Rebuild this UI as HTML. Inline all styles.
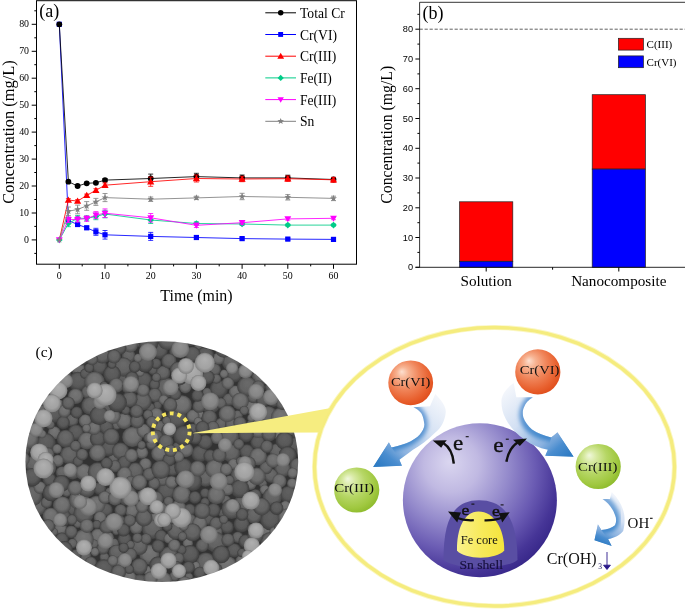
<!DOCTYPE html>
<html><head><meta charset="utf-8"><title>Figure</title>
<style>html,body{margin:0;padding:0;background:#fff}svg{display:block}</style></head>
<body><svg width="685" height="609" viewBox="0 0 685 609">
<defs>
<filter id="sb" x="-5%" y="-5%" width="110%" height="110%"><feGaussianBlur stdDeviation="0.6"/></filter>
<filter id="se" x="-5%" y="-5%" width="110%" height="110%"><feGaussianBlur stdDeviation="0.4"/></filter>
<filter id="ab" x="-30%" y="-30%" width="160%" height="160%"><feGaussianBlur stdDeviation="2.2"/></filter>
<radialGradient id="g0" cy="0.5" fy="0.3"><stop offset="0" stop-color="#606060"/><stop offset="0.65" stop-color="#595959"/><stop offset="1" stop-color="#3c3c3c"/></radialGradient>
<radialGradient id="g1" cy="0.5" fy="0.3"><stop offset="0" stop-color="#6a6a6a"/><stop offset="0.65" stop-color="#626262"/><stop offset="1" stop-color="#424242"/></radialGradient>
<radialGradient id="g2" cy="0.5" fy="0.3"><stop offset="0" stop-color="#767676"/><stop offset="0.65" stop-color="#6d6d6d"/><stop offset="1" stop-color="#4a4a4a"/></radialGradient>
<radialGradient id="g3" cy="0.5" fy="0.3"><stop offset="0" stop-color="#b0b0b0"/><stop offset="0.7" stop-color="#a2a2a2"/><stop offset="1" stop-color="#808080"/></radialGradient>
<radialGradient id="g4" cy="0.5" fy="0.3"><stop offset="0" stop-color="#929292"/><stop offset="0.7" stop-color="#868686"/><stop offset="1" stop-color="#686868"/></radialGradient>
<radialGradient id="go" cx="0.42" cy="0.4" fx="0.3" fy="0.25" r="0.66"><stop offset="0" stop-color="#fde0d0"/><stop offset="0.2" stop-color="#f7b392"/><stop offset="0.5" stop-color="#f0855a"/><stop offset="0.8" stop-color="#e8602e"/><stop offset="1" stop-color="#de4a18"/></radialGradient>
<radialGradient id="gg" cx="0.42" cy="0.4" fx="0.3" fy="0.25" r="0.66"><stop offset="0" stop-color="#f0f8dc"/><stop offset="0.2" stop-color="#d8eaa4"/><stop offset="0.5" stop-color="#b6d665"/><stop offset="0.8" stop-color="#a0c840"/><stop offset="1" stop-color="#8ab828"/></radialGradient>
<radialGradient id="gp" cx="0.36" cy="0.33" fx="0.3" fy="0.25" r="0.72"><stop offset="0" stop-color="#dad6f0"/><stop offset="0.25" stop-color="#c0b9e2"/><stop offset="0.5" stop-color="#9389cb"/><stop offset="0.72" stop-color="#6a5bb3"/><stop offset="0.9" stop-color="#463597"/><stop offset="1" stop-color="#38288a"/></radialGradient>
<linearGradient id="gy" x1="0" y1="0" x2="1" y2="0"><stop offset="0" stop-color="#faf18c"/><stop offset="0.5" stop-color="#f7ea5c"/><stop offset="1" stop-color="#f5e43c"/></linearGradient>
<linearGradient id="ba1" gradientUnits="userSpaceOnUse" x1="440" y1="395" x2="380" y2="466"><stop offset="0" stop-color="#f6f8fc"/><stop offset="0.4" stop-color="#d3e0f3"/><stop offset="0.72" stop-color="#8db3e0"/><stop offset="0.86" stop-color="#4a8dcf"/><stop offset="1" stop-color="#2f7cc4"/></linearGradient>
<linearGradient id="ba2" gradientUnits="userSpaceOnUse" x1="508" y1="385" x2="568" y2="456"><stop offset="0" stop-color="#f6f8fc"/><stop offset="0.4" stop-color="#d3e0f3"/><stop offset="0.72" stop-color="#8db3e0"/><stop offset="0.86" stop-color="#4a8dcf"/><stop offset="1" stop-color="#2f7cc4"/></linearGradient>
<linearGradient id="ba3" gradientUnits="userSpaceOnUse" x1="618" y1="495" x2="598" y2="542"><stop offset="0" stop-color="#f4f7fc"/><stop offset="0.45" stop-color="#d3e0f3"/><stop offset="0.75" stop-color="#8db3e0"/><stop offset="0.88" stop-color="#4a8dcf"/><stop offset="1" stop-color="#2f7cc4"/></linearGradient>
<linearGradient id="bs1" gradientUnits="userSpaceOnUse" x1="415" y1="405" x2="390" y2="448"><stop offset="0" stop-color="#6a9dd6"/><stop offset="1" stop-color="#3a84ca"/></linearGradient>
<linearGradient id="bs2" gradientUnits="userSpaceOnUse" x1="530" y1="396" x2="553" y2="438"><stop offset="0" stop-color="#6a9dd6"/><stop offset="1" stop-color="#3a84ca"/></linearGradient>
<linearGradient id="bs3" gradientUnits="userSpaceOnUse" x1="603" y1="497" x2="600" y2="530"><stop offset="0" stop-color="#7aa8da"/><stop offset="1" stop-color="#3a84ca"/></linearGradient>
</defs>
<rect width="685" height="609" fill="#fff"/>
<g font-family="'Liberation Serif', serif" fill="#000">
<rect x="36.5" y="0.7" width="320.0" height="263.5" fill="#fff" stroke="#000" stroke-width="1"/>
<text x="29.0" y="242.7" font-size="9.9" text-anchor="end">0</text>
<text x="29.0" y="215.8" font-size="9.9" text-anchor="end">10</text>
<text x="29.0" y="188.8" font-size="9.9" text-anchor="end">20</text>
<text x="29.0" y="161.9" font-size="9.9" text-anchor="end">30</text>
<text x="29.0" y="134.9" font-size="9.9" text-anchor="end">40</text>
<text x="29.0" y="108.0" font-size="9.9" text-anchor="end">50</text>
<text x="29.0" y="81.0" font-size="9.9" text-anchor="end">60</text>
<text x="29.0" y="54.1" font-size="9.9" text-anchor="end">70</text>
<text x="29.0" y="27.1" font-size="9.9" text-anchor="end">80</text>
<text x="59.3" y="279.0" font-size="9.9" text-anchor="middle">0</text>
<text x="105.0" y="279.0" font-size="9.9" text-anchor="middle">10</text>
<text x="150.7" y="279.0" font-size="9.9" text-anchor="middle">20</text>
<text x="196.4" y="279.0" font-size="9.9" text-anchor="middle">30</text>
<text x="242.1" y="279.0" font-size="9.9" text-anchor="middle">40</text>
<text x="287.8" y="279.0" font-size="9.9" text-anchor="middle">50</text>
<text x="333.5" y="279.0" font-size="9.9" text-anchor="middle">60</text>
<path d="M34.3 253.4H36.5M31.7 239.9H36.5M34.3 226.4H36.5M31.7 213.0H36.5M34.3 199.5H36.5M31.7 186.0H36.5M34.3 172.5H36.5M31.7 159.1H36.5M34.3 145.6H36.5M31.7 132.1H36.5M34.3 118.6H36.5M31.7 105.2H36.5M34.3 91.7H36.5M31.7 78.2H36.5M34.3 64.7H36.5M31.7 51.3H36.5M34.3 37.8H36.5M31.7 24.3H36.5M34.3 10.8H36.5M59.3 264.2V268.8M82.2 264.2V266.4M105.0 264.2V268.8M127.9 264.2V266.4M150.7 264.2V268.8M173.6 264.2V266.4M196.4 264.2V268.8M219.2 264.2V266.4M242.1 264.2V268.8M264.9 264.2V266.4M287.8 264.2V268.8M310.7 264.2V266.4M333.5 264.2V268.8" stroke="#000" stroke-width="1" fill="none"/>
<polyline points="59.3,24.3 68.4,220.5 77.6,224.5 86.7,227.8 95.9,231.8 105.0,234.8 150.7,236.4 196.4,237.5 242.1,238.6 287.8,239.1 333.5,239.4" fill="none" stroke="#0000ff" stroke-width="0.85"/>
<path d="M68.4 218.9V222.1M65.9 218.9h5M65.9 222.1h5M77.6 222.9V226.2M75.1 222.9h5M75.1 226.2h5M86.7 226.2V229.4M84.2 226.2h5M84.2 229.4h5M95.9 228.3V235.3M93.4 228.3h5M93.4 235.3h5M105.0 230.5V239.1M102.5 230.5h5M102.5 239.1h5M150.7 232.4V240.4M148.2 232.4h5M148.2 240.4h5M196.4 235.9V239.1M193.9 235.9h5M193.9 239.1h5M242.1 237.2V239.9M239.6 237.2h5M239.6 239.9h5M287.8 238.0V240.2M285.3 238.0h5M285.3 240.2h5M333.5 238.3V240.4M331.0 238.3h5M331.0 240.4h5" stroke="#0000ff" stroke-width="0.8" fill="none"/>
<rect x="56.7" y="21.7" width="5.2" height="5.2" fill="#0000ff"/>
<rect x="65.8" y="217.9" width="5.2" height="5.2" fill="#0000ff"/>
<rect x="75.0" y="221.9" width="5.2" height="5.2" fill="#0000ff"/>
<rect x="84.1" y="225.2" width="5.2" height="5.2" fill="#0000ff"/>
<rect x="93.3" y="229.2" width="5.2" height="5.2" fill="#0000ff"/>
<rect x="102.4" y="232.2" width="5.2" height="5.2" fill="#0000ff"/>
<rect x="148.1" y="233.8" width="5.2" height="5.2" fill="#0000ff"/>
<rect x="193.8" y="234.9" width="5.2" height="5.2" fill="#0000ff"/>
<rect x="239.5" y="236.0" width="5.2" height="5.2" fill="#0000ff"/>
<rect x="285.2" y="236.5" width="5.2" height="5.2" fill="#0000ff"/>
<rect x="330.9" y="236.8" width="5.2" height="5.2" fill="#0000ff"/>
<polyline points="59.3,24.3 68.4,181.7 77.6,186.0 86.7,183.3 95.9,182.8 105.0,180.1 150.7,178.5 196.4,176.6 242.1,177.9 287.8,177.9 333.5,179.5" fill="none" stroke="#000" stroke-width="0.85"/>
<path d="M68.4 180.6V182.8M65.9 180.6h5M65.9 182.8h5M77.6 184.9V187.1M75.1 184.9h5M75.1 187.1h5M86.7 182.2V184.4M84.2 182.2h5M84.2 184.4h5M95.9 181.7V183.8M93.4 181.7h5M93.4 183.8h5M105.0 178.5V181.7M102.5 178.5h5M102.5 181.7h5M150.7 174.1V182.8M148.2 174.1h5M148.2 182.8h5M196.4 173.3V179.8M193.9 173.3h5M193.9 179.8h5M242.1 175.0V180.9M239.6 175.0h5M239.6 180.9h5M287.8 175.2V180.6M285.3 175.2h5M285.3 180.6h5M333.5 177.4V181.7M331.0 177.4h5M331.0 181.7h5" stroke="#000" stroke-width="0.8" fill="none"/>
<circle cx="59.3" cy="24.3" r="2.90" fill="#000"/>
<circle cx="68.4" cy="181.7" r="2.90" fill="#000"/>
<circle cx="77.6" cy="186.0" r="2.90" fill="#000"/>
<circle cx="86.7" cy="183.3" r="2.90" fill="#000"/>
<circle cx="95.9" cy="182.8" r="2.90" fill="#000"/>
<circle cx="105.0" cy="180.1" r="2.90" fill="#000"/>
<circle cx="150.7" cy="178.5" r="2.90" fill="#000"/>
<circle cx="196.4" cy="176.6" r="2.90" fill="#000"/>
<circle cx="242.1" cy="177.9" r="2.90" fill="#000"/>
<circle cx="287.8" cy="177.9" r="2.90" fill="#000"/>
<circle cx="333.5" cy="179.5" r="2.90" fill="#000"/>
<polyline points="59.3,239.9 68.4,200.0 77.6,201.1 86.7,195.4 95.9,190.3 105.0,185.2 150.7,181.7 196.4,178.5 242.1,179.0 287.8,178.7 333.5,179.8" fill="none" stroke="#ff0000" stroke-width="0.85"/>
<path d="M68.4 198.7V201.4M65.9 198.7h5M65.9 201.4h5M77.6 199.7V202.4M75.1 199.7h5M75.1 202.4h5M86.7 194.1V196.8M84.2 194.1h5M84.2 196.8h5M95.9 188.7V191.9M93.4 188.7h5M93.4 191.9h5M105.0 183.0V187.3M102.5 183.0h5M102.5 187.3h5M150.7 177.1V186.3M148.2 177.1h5M148.2 186.3h5M196.4 175.0V182.0M193.9 175.0h5M193.9 182.0h5M242.1 176.3V181.7M239.6 176.3h5M239.6 181.7h5M287.8 176.0V181.4M285.3 176.0h5M285.3 181.4h5M333.5 177.4V182.2M331.0 177.4h5M331.0 182.2h5" stroke="#ff0000" stroke-width="0.8" fill="none"/>
<path d="M68.4 196.4L72.0 202.7L64.8 202.7Z" fill="#ff0000"/>
<path d="M77.6 197.5L81.2 203.8L74.0 203.8Z" fill="#ff0000"/>
<path d="M86.7 191.8L90.3 198.1L83.1 198.1Z" fill="#ff0000"/>
<path d="M95.9 186.7L99.5 193.0L92.3 193.0Z" fill="#ff0000"/>
<path d="M105.0 181.6L108.6 187.9L101.4 187.9Z" fill="#ff0000"/>
<path d="M150.7 178.1L154.3 184.4L147.1 184.4Z" fill="#ff0000"/>
<path d="M196.4 174.9L200.0 181.2L192.8 181.2Z" fill="#ff0000"/>
<path d="M242.1 175.4L245.7 181.7L238.5 181.7Z" fill="#ff0000"/>
<path d="M287.8 175.1L291.4 181.4L284.2 181.4Z" fill="#ff0000"/>
<path d="M333.5 176.2L337.1 182.5L329.9 182.5Z" fill="#ff0000"/>
<polyline points="59.3,239.9 68.4,223.5 77.6,218.3 86.7,218.3 95.9,216.5 105.0,214.0 150.7,220.0 196.4,223.5 242.1,224.0 287.8,225.1 333.5,225.1" fill="none" stroke="#00cc88" stroke-width="0.85"/>
<path d="M68.4 220.2V226.7M65.9 220.2h5M65.9 226.7h5M77.6 215.6V221.0M75.1 215.6h5M75.1 221.0h5M86.7 215.9V220.8M84.2 215.9h5M84.2 220.8h5M95.9 213.2V219.7M93.4 213.2h5M93.4 219.7h5M105.0 210.3V217.8M102.5 210.3h5M102.5 217.8h5M150.7 216.5V223.5M148.2 216.5h5M148.2 223.5h5M196.4 221.8V225.1M193.9 221.8h5M193.9 225.1h5M242.1 222.7V225.3M239.6 222.7h5M239.6 225.3h5M287.8 224.0V226.2M285.3 224.0h5M285.3 226.2h5M333.5 224.0V226.2M331.0 224.0h5M331.0 226.2h5" stroke="#00cc88" stroke-width="0.8" fill="none"/>
<path d="M59.3 236.6L62.6 239.9L59.3 243.2L56.0 239.9Z" fill="#00cc88"/>
<path d="M68.4 220.2L71.7 223.5L68.4 226.8L65.1 223.5Z" fill="#00cc88"/>
<path d="M77.6 215.0L80.9 218.3L77.6 221.6L74.3 218.3Z" fill="#00cc88"/>
<path d="M86.7 215.0L90.0 218.3L86.7 221.6L83.4 218.3Z" fill="#00cc88"/>
<path d="M95.9 213.2L99.2 216.5L95.9 219.8L92.6 216.5Z" fill="#00cc88"/>
<path d="M105.0 210.7L108.3 214.0L105.0 217.3L101.7 214.0Z" fill="#00cc88"/>
<path d="M150.7 216.7L154.0 220.0L150.7 223.3L147.4 220.0Z" fill="#00cc88"/>
<path d="M196.4 220.2L199.7 223.5L196.4 226.8L193.1 223.5Z" fill="#00cc88"/>
<path d="M242.1 220.7L245.4 224.0L242.1 227.3L238.8 224.0Z" fill="#00cc88"/>
<path d="M287.8 221.8L291.1 225.1L287.8 228.4L284.5 225.1Z" fill="#00cc88"/>
<path d="M333.5 221.8L336.8 225.1L333.5 228.4L330.2 225.1Z" fill="#00cc88"/>
<polyline points="59.3,239.9 68.4,219.7 77.6,219.4 86.7,218.6 95.9,215.1 105.0,213.2 150.7,217.8 196.4,225.3 242.1,222.7 287.8,218.9 333.5,218.3" fill="none" stroke="#ff00ff" stroke-width="0.85"/>
<path d="M68.4 217.0V222.4M65.9 217.0h5M65.9 222.4h5M77.6 216.7V222.1M75.1 216.7h5M75.1 222.1h5M86.7 215.9V221.3M84.2 215.9h5M84.2 221.3h5M95.9 211.6V218.6M93.4 211.6h5M93.4 218.6h5M105.0 208.9V217.5M102.5 208.9h5M102.5 217.5h5M150.7 213.5V222.1M148.2 213.5h5M148.2 222.1h5M196.4 223.2V227.5M193.9 223.2h5M193.9 227.5h5M242.1 221.0V224.3M239.6 221.0h5M239.6 224.3h5M287.8 217.5V220.2M285.3 217.5h5M285.3 220.2h5M333.5 217.0V219.7M331.0 217.0h5M331.0 219.7h5" stroke="#ff00ff" stroke-width="0.8" fill="none"/>
<path d="M59.3 243.3L62.7 237.3L55.9 237.3Z" fill="#ff00ff"/>
<path d="M68.4 223.1L71.8 217.1L65.0 217.1Z" fill="#ff00ff"/>
<path d="M77.6 222.8L81.0 216.9L74.2 216.9Z" fill="#ff00ff"/>
<path d="M86.7 222.0L90.1 216.1L83.3 216.1Z" fill="#ff00ff"/>
<path d="M95.9 218.5L99.3 212.6L92.5 212.6Z" fill="#ff00ff"/>
<path d="M105.0 216.6L108.4 210.7L101.6 210.7Z" fill="#ff00ff"/>
<path d="M150.7 221.2L154.1 215.3L147.3 215.3Z" fill="#ff00ff"/>
<path d="M196.4 228.7L199.8 222.8L193.0 222.8Z" fill="#ff00ff"/>
<path d="M242.1 226.1L245.5 220.1L238.7 220.1Z" fill="#ff00ff"/>
<path d="M287.8 222.3L291.2 216.3L284.4 216.3Z" fill="#ff00ff"/>
<path d="M333.5 221.7L336.9 215.8L330.1 215.8Z" fill="#ff00ff"/>
<polyline points="59.3,239.9 68.4,211.3 77.6,209.4 86.7,205.9 95.9,201.9 105.0,197.6 150.7,199.2 196.4,197.9 242.1,196.5 287.8,197.3 333.5,198.4" fill="none" stroke="#808080" stroke-width="0.85"/>
<path d="M68.4 207.0V215.6M65.9 207.0h5M65.9 215.6h5M77.6 205.1V213.8M75.1 205.1h5M75.1 213.8h5M86.7 201.6V210.3M84.2 201.6h5M84.2 210.3h5M95.9 198.4V205.4M93.4 198.4h5M93.4 205.4h5M105.0 193.5V201.6M102.5 193.5h5M102.5 201.6h5M150.7 197.0V201.4M148.2 197.0h5M148.2 201.4h5M196.4 196.2V199.5M193.9 196.2h5M193.9 199.5h5M242.1 193.3V199.7M239.6 193.3h5M239.6 199.7h5M287.8 194.6V200.0M285.3 194.6h5M285.3 200.0h5M333.5 196.2V200.6M331.0 196.2h5M331.0 200.6h5" stroke="#808080" stroke-width="0.8" fill="none"/>
<path d="M59.3 236.3L60.2 238.7L62.7 238.8L60.7 240.4L61.4 242.8L59.3 241.4L57.2 242.8L57.9 240.4L55.9 238.8L58.4 238.7Z" fill="#808080"/>
<path d="M68.4 207.7L69.3 210.1L71.9 210.2L69.9 211.8L70.6 214.2L68.4 212.8L66.3 214.2L67.0 211.8L65.0 210.2L67.6 210.1Z" fill="#808080"/>
<path d="M77.6 205.8L78.5 208.2L81.0 208.3L79.0 209.9L79.7 212.4L77.6 210.9L75.5 212.4L76.2 209.9L74.2 208.3L76.7 208.2Z" fill="#808080"/>
<path d="M86.7 202.3L87.6 204.7L90.1 204.8L88.1 206.4L88.8 208.9L86.7 207.4L84.6 208.9L85.3 206.4L83.3 204.8L85.8 204.7Z" fill="#808080"/>
<path d="M95.9 198.3L96.7 200.7L99.3 200.8L97.3 202.4L98.0 204.8L95.9 203.4L93.7 204.8L94.4 202.4L92.4 200.8L95.0 200.7Z" fill="#808080"/>
<path d="M105.0 194.0L105.9 196.4L108.4 196.5L106.4 198.1L107.1 200.5L105.0 199.1L102.9 200.5L103.6 198.1L101.6 196.5L104.1 196.4Z" fill="#808080"/>
<path d="M150.7 195.6L151.6 198.0L154.1 198.1L152.1 199.7L152.8 202.1L150.7 200.7L148.6 202.1L149.3 199.7L147.3 198.1L149.8 198.0Z" fill="#808080"/>
<path d="M196.4 194.3L197.3 196.6L199.8 196.7L197.8 198.3L198.5 200.8L196.4 199.4L194.3 200.8L195.0 198.3L193.0 196.7L195.5 196.6Z" fill="#808080"/>
<path d="M242.1 192.9L243.0 195.3L245.5 195.4L243.5 197.0L244.2 199.4L242.1 198.0L240.0 199.4L240.7 197.0L238.7 195.4L241.2 195.3Z" fill="#808080"/>
<path d="M287.8 193.7L288.7 196.1L291.2 196.2L289.2 197.8L289.9 200.2L287.8 198.8L285.7 200.2L286.4 197.8L284.4 196.2L286.9 196.1Z" fill="#808080"/>
<path d="M333.5 194.8L334.4 197.2L336.9 197.3L334.9 198.9L335.6 201.3L333.5 199.9L331.4 201.3L332.1 198.9L330.1 197.3L332.6 197.2Z" fill="#808080"/>
<path d="M265.3 12.8H296" stroke="#000" stroke-width="1"/>
<circle cx="280.7" cy="12.8" r="2.75" fill="#000"/>
<text x="300" y="17.8" font-size="13.6">Total Cr</text>
<path d="M265.3 34.5H296" stroke="#0000ff" stroke-width="1"/>
<rect x="278.2" y="32.0" width="4.9" height="4.9" fill="#0000ff"/>
<text x="300" y="39.5" font-size="13.6">Cr(VI)</text>
<path d="M265.3 56.2H296" stroke="#ff0000" stroke-width="1"/>
<path d="M280.7 52.8L284.1 58.8L277.3 58.8Z" fill="#ff0000"/>
<text x="300" y="61.2" font-size="13.6">Cr(III)</text>
<path d="M265.3 77.9H296" stroke="#00cc88" stroke-width="1"/>
<path d="M280.7 74.8L283.8 77.9L280.7 81.0L277.6 77.9Z" fill="#00cc88"/>
<text x="300" y="82.9" font-size="13.6">Fe(II)</text>
<path d="M265.3 99.6H296" stroke="#ff00ff" stroke-width="1"/>
<path d="M280.7 102.8L283.9 97.2L277.5 97.2Z" fill="#ff00ff"/>
<text x="300" y="104.6" font-size="13.6">Fe(III)</text>
<path d="M265.3 121.3H296" stroke="#808080" stroke-width="1"/>
<path d="M280.7 117.9L281.5 120.1L284.0 120.2L282.1 121.7L282.7 124.1L280.7 122.7L278.7 124.1L279.3 121.7L277.4 120.2L279.9 120.1Z" fill="#808080"/>
<text x="300" y="126.3" font-size="13.6">Sn</text>
<text x="39.3" y="17.3" font-size="18">(a)</text>
<text transform="translate(14.3 132) rotate(-90)" font-size="16.4" text-anchor="middle">Concentration (mg/L)</text>
<text x="196.5" y="300.6" font-size="15.9" text-anchor="middle">Time (min)</text>
</g>
<g font-family="'Liberation Sans', sans-serif" fill="#000">
<path d="M419.6 267.3V2.3H685" fill="none" stroke="#111" stroke-width="0.85"/>
<path d="M419.6 29.2H685" fill="none" stroke="#383838" stroke-width="0.8" stroke-dasharray="3.2 1.8"/>
<rect x="459.6" y="201.8" width="53.2" height="59.5" fill="#ff0000" stroke="#222" stroke-width="0.7"/>
<rect x="459.6" y="261.3" width="53.2" height="6.0" fill="#0000ff" stroke="#222" stroke-width="0.7"/>
<rect x="592.2" y="94.7" width="53.2" height="74.4" fill="#ff0000" stroke="#222" stroke-width="0.7"/>
<rect x="592.2" y="169.1" width="53.2" height="98.2" fill="#0000ff" stroke="#222" stroke-width="0.7"/>
<path d="M415.6 267.3H685" fill="none" stroke="#111" stroke-width="0.9"/>
<text x="413.0" y="270.4" font-size="9.2" text-anchor="end">0</text>
<text x="413.0" y="240.6" font-size="9.2" text-anchor="end">10</text>
<text x="413.0" y="210.9" font-size="9.2" text-anchor="end">20</text>
<text x="413.0" y="181.1" font-size="9.2" text-anchor="end">30</text>
<text x="413.0" y="151.4" font-size="9.2" text-anchor="end">40</text>
<text x="413.0" y="121.6" font-size="9.2" text-anchor="end">50</text>
<text x="413.0" y="91.8" font-size="9.2" text-anchor="end">60</text>
<text x="413.0" y="62.1" font-size="9.2" text-anchor="end">70</text>
<text x="413.0" y="32.3" font-size="9.2" text-anchor="end">80</text>
<path d="M415.40000000000003 267.3H419.6M417.40000000000003 252.4H419.6M415.40000000000003 237.5H419.6M417.40000000000003 222.7H419.6M415.40000000000003 207.8H419.6M417.40000000000003 192.9H419.6M415.40000000000003 178.0H419.6M417.40000000000003 163.1H419.6M415.40000000000003 148.3H419.6M417.40000000000003 133.4H419.6M415.40000000000003 118.5H419.6M417.40000000000003 103.6H419.6M415.40000000000003 88.7H419.6M417.40000000000003 73.9H419.6M415.40000000000003 59.0H419.6M417.40000000000003 44.1H419.6M415.40000000000003 29.2H419.6M417.40000000000003 14.3H419.6M486.2 267.3v4.2M618.8 267.3v4.2M552.6 267.3v2.4" stroke="#000" stroke-width="1" fill="none"/>
</g>
<g font-family="'Liberation Serif', serif" fill="#000">
<rect x="618.4" y="38.3" width="25" height="11.8" fill="#ff0000" stroke="#222" stroke-width="0.7"/>
<rect x="618.4" y="55.9" width="25" height="11.8" fill="#0000ff" stroke="#222" stroke-width="0.7"/>
<text x="646.6" y="47.8" font-size="11">C(III)</text>
<text x="646.6" y="65.6" font-size="11">Cr(VI)</text>
<text x="422.4" y="19.1" font-size="18">(b)</text>
<text x="486.2" y="286.4" font-size="15.2" text-anchor="middle">Solution</text>
<text x="618.8" y="286.4" font-size="15.2" text-anchor="middle">Nanocomposite</text>
<text transform="translate(392.4 134.75) rotate(-90)" font-size="15.76" text-anchor="middle">Concentration (mg/L)</text>
</g>
<clipPath id="sc"><ellipse cx="161.8" cy="461.6" rx="136.4" ry="120.4"/></clipPath>
<g filter="url(#se)"><g clip-path="url(#sc)"><g filter="url(#sb)">
<rect x="15" y="330" width="295" height="265" fill="#333"/>
<circle cx="81.4" cy="568.3" r="6.9" fill="url(#g1)"/>
<circle cx="107.3" cy="407.8" r="6.2" fill="url(#g0)"/>
<circle cx="185.3" cy="386.9" r="6.3" fill="url(#g2)"/>
<circle cx="120.0" cy="521.3" r="6.1" fill="url(#g0)"/>
<circle cx="268.0" cy="414.9" r="9.0" fill="url(#g1)"/>
<circle cx="198.2" cy="381.8" r="6.5" fill="url(#g1)"/>
<circle cx="166.2" cy="491.1" r="8.9" fill="url(#g0)"/>
<circle cx="61.9" cy="472.4" r="6.1" fill="url(#g1)"/>
<circle cx="113.2" cy="458.7" r="5.1" fill="url(#g1)"/>
<circle cx="175.3" cy="351.9" r="6.2" fill="url(#g0)"/>
<circle cx="136.2" cy="527.6" r="6.6" fill="url(#g2)"/>
<circle cx="190.4" cy="338.8" r="7.3" fill="url(#g1)"/>
<circle cx="53.5" cy="351.0" r="9.3" fill="url(#g0)"/>
<circle cx="290.0" cy="365.3" r="4.2" fill="url(#g1)"/>
<circle cx="277.6" cy="434.5" r="4.7" fill="url(#g2)"/>
<circle cx="72.1" cy="420.3" r="6.3" fill="url(#g1)"/>
<circle cx="97.8" cy="535.9" r="7.3" fill="url(#g2)"/>
<circle cx="128.6" cy="356.0" r="6.9" fill="url(#g1)"/>
<circle cx="159.8" cy="350.9" r="8.0" fill="url(#g0)"/>
<circle cx="218.8" cy="389.1" r="9.2" fill="url(#g0)"/>
<circle cx="157.5" cy="405.4" r="4.4" fill="url(#g0)"/>
<circle cx="38.9" cy="537.2" r="4.4" fill="url(#g1)"/>
<circle cx="89.5" cy="578.4" r="7.3" fill="url(#g1)"/>
<circle cx="227.1" cy="527.1" r="6.7" fill="url(#g0)"/>
<circle cx="176.9" cy="446.6" r="4.5" fill="url(#g0)"/>
<circle cx="27.5" cy="382.8" r="6.7" fill="url(#g2)"/>
<circle cx="147.6" cy="570.5" r="4.7" fill="url(#g2)"/>
<circle cx="119.1" cy="336.4" r="9.6" fill="url(#g2)"/>
<circle cx="276.4" cy="450.7" r="7.1" fill="url(#g1)"/>
<circle cx="39.3" cy="339.8" r="7.6" fill="url(#g0)"/>
<circle cx="205.8" cy="562.2" r="9.8" fill="url(#g1)"/>
<circle cx="250.6" cy="424.3" r="4.2" fill="url(#g1)"/>
<circle cx="60.4" cy="387.4" r="7.1" fill="url(#g1)"/>
<circle cx="149.5" cy="554.6" r="10.1" fill="url(#g2)"/>
<circle cx="189.7" cy="509.9" r="6.2" fill="url(#g0)"/>
<circle cx="205.6" cy="478.7" r="8.0" fill="url(#g1)"/>
<circle cx="160.9" cy="522.3" r="4.9" fill="url(#g1)"/>
<circle cx="246.8" cy="451.6" r="7.4" fill="url(#g0)"/>
<circle cx="94.1" cy="544.0" r="4.5" fill="url(#g1)"/>
<circle cx="54.3" cy="432.8" r="6.5" fill="url(#g2)"/>
<circle cx="132.3" cy="436.9" r="10.1" fill="url(#g2)"/>
<circle cx="179.8" cy="339.1" r="8.1" fill="url(#g2)"/>
<circle cx="150.6" cy="407.6" r="4.6" fill="url(#g0)"/>
<circle cx="162.6" cy="480.0" r="6.1" fill="url(#g1)"/>
<circle cx="21.7" cy="557.6" r="7.0" fill="url(#g1)"/>
<circle cx="116.6" cy="425.4" r="4.4" fill="url(#g1)"/>
<circle cx="107.7" cy="537.8" r="6.4" fill="url(#g2)"/>
<circle cx="21.6" cy="546.7" r="5.8" fill="url(#g2)"/>
<circle cx="294.7" cy="414.4" r="9.6" fill="url(#g0)"/>
<circle cx="267.4" cy="366.3" r="5.0" fill="url(#g1)"/>
<circle cx="252.8" cy="407.6" r="7.7" fill="url(#g2)"/>
<circle cx="109.4" cy="491.8" r="4.3" fill="url(#g1)"/>
<circle cx="166.4" cy="387.7" r="10.1" fill="url(#g1)"/>
<circle cx="108.6" cy="448.6" r="7.8" fill="url(#g0)"/>
<circle cx="296.1" cy="584.8" r="4.8" fill="url(#g0)"/>
<circle cx="301.5" cy="433.2" r="10.0" fill="url(#g0)"/>
<circle cx="200.0" cy="414.6" r="4.2" fill="url(#g2)"/>
<circle cx="40.8" cy="350.3" r="6.9" fill="url(#g1)"/>
<circle cx="106.2" cy="509.8" r="6.6" fill="url(#g0)"/>
<circle cx="113.6" cy="583.6" r="6.3" fill="url(#g1)"/>
<circle cx="192.7" cy="429.4" r="6.0" fill="url(#g0)"/>
<circle cx="241.5" cy="572.1" r="8.2" fill="url(#g0)"/>
<circle cx="288.5" cy="340.8" r="8.8" fill="url(#g2)"/>
<circle cx="143.6" cy="430.8" r="7.0" fill="url(#g2)"/>
<circle cx="99.5" cy="366.8" r="7.8" fill="url(#g0)"/>
<circle cx="60.7" cy="528.6" r="6.4" fill="url(#g2)"/>
<circle cx="221.1" cy="423.9" r="6.1" fill="url(#g1)"/>
<circle cx="113.9" cy="543.4" r="5.2" fill="url(#g1)"/>
<circle cx="156.3" cy="414.4" r="6.6" fill="url(#g2)"/>
<circle cx="75.8" cy="432.4" r="8.0" fill="url(#g0)"/>
<circle cx="282.8" cy="429.8" r="4.3" fill="url(#g1)"/>
<circle cx="205.2" cy="579.8" r="4.3" fill="url(#g1)"/>
<circle cx="53.8" cy="532.1" r="4.2" fill="url(#g1)"/>
<circle cx="234.5" cy="374.3" r="8.1" fill="url(#g0)"/>
<circle cx="142.0" cy="452.6" r="6.2" fill="url(#g2)"/>
<circle cx="138.4" cy="342.1" r="4.7" fill="url(#g1)"/>
<circle cx="257.1" cy="339.8" r="8.7" fill="url(#g1)"/>
<circle cx="188.8" cy="577.0" r="4.4" fill="url(#g1)"/>
<circle cx="124.6" cy="539.2" r="6.9" fill="url(#g0)"/>
<circle cx="231.1" cy="361.7" r="9.4" fill="url(#g1)"/>
<circle cx="116.2" cy="530.9" r="4.2" fill="url(#g1)"/>
<circle cx="199.8" cy="453.9" r="8.4" fill="url(#g0)"/>
<circle cx="139.4" cy="566.4" r="8.2" fill="url(#g1)"/>
<circle cx="225.8" cy="500.2" r="5.0" fill="url(#g1)"/>
<circle cx="141.6" cy="445.1" r="4.3" fill="url(#g1)"/>
<circle cx="176.7" cy="417.9" r="10.3" fill="url(#g0)"/>
<circle cx="144.0" cy="380.2" r="8.1" fill="url(#g0)"/>
<circle cx="262.8" cy="483.6" r="4.3" fill="url(#g1)"/>
<circle cx="192.9" cy="416.1" r="6.5" fill="url(#g2)"/>
<circle cx="104.4" cy="557.1" r="4.9" fill="url(#g1)"/>
<circle cx="37.2" cy="425.9" r="7.8" fill="url(#g0)"/>
<circle cx="256.7" cy="573.2" r="4.1" fill="url(#g2)"/>
<circle cx="102.3" cy="355.4" r="8.2" fill="url(#g1)"/>
<circle cx="227.5" cy="565.4" r="9.5" fill="url(#g2)"/>
<circle cx="228.8" cy="399.5" r="6.3" fill="url(#g1)"/>
<circle cx="196.0" cy="565.7" r="4.2" fill="url(#g2)"/>
<circle cx="252.7" cy="359.8" r="8.5" fill="url(#g1)"/>
<circle cx="172.4" cy="469.9" r="6.2" fill="url(#g0)"/>
<circle cx="266.3" cy="531.1" r="6.2" fill="url(#g2)"/>
<circle cx="62.3" cy="559.9" r="5.7" fill="url(#g1)"/>
<circle cx="123.9" cy="421.0" r="8.0" fill="url(#g2)"/>
<circle cx="231.1" cy="452.9" r="9.2" fill="url(#g1)"/>
<circle cx="157.6" cy="337.1" r="4.4" fill="url(#g1)"/>
<circle cx="72.6" cy="472.1" r="7.4" fill="url(#g1)"/>
<circle cx="290.5" cy="428.8" r="6.5" fill="url(#g2)"/>
<circle cx="280.8" cy="392.1" r="5.2" fill="url(#g0)"/>
<circle cx="152.8" cy="370.5" r="4.5" fill="url(#g0)"/>
<circle cx="139.3" cy="546.8" r="8.3" fill="url(#g1)"/>
<circle cx="32.6" cy="463.8" r="7.8" fill="url(#g1)"/>
<circle cx="187.9" cy="543.2" r="5.1" fill="url(#g2)"/>
<circle cx="242.1" cy="561.2" r="6.7" fill="url(#g2)"/>
<circle cx="190.1" cy="554.3" r="9.2" fill="url(#g0)"/>
<circle cx="130.2" cy="344.7" r="7.7" fill="url(#g2)"/>
<circle cx="210.0" cy="456.0" r="6.5" fill="url(#g0)"/>
<circle cx="132.0" cy="511.0" r="6.7" fill="url(#g2)"/>
<circle cx="160.0" cy="426.8" r="6.3" fill="url(#g1)"/>
<circle cx="283.5" cy="569.0" r="8.3" fill="url(#g1)"/>
<circle cx="24.9" cy="508.4" r="9.5" fill="url(#g2)"/>
<circle cx="298.0" cy="547.3" r="8.3" fill="url(#g1)"/>
<circle cx="182.1" cy="404.9" r="9.7" fill="url(#g2)"/>
<circle cx="77.8" cy="523.8" r="4.3" fill="url(#g1)"/>
<circle cx="77.9" cy="368.1" r="7.0" fill="url(#g2)"/>
<circle cx="145.4" cy="464.1" r="6.2" fill="url(#g2)"/>
<circle cx="250.5" cy="484.1" r="6.0" fill="url(#g2)"/>
<circle cx="37.9" cy="507.3" r="8.3" fill="url(#g1)"/>
<circle cx="86.6" cy="440.7" r="8.7" fill="url(#g2)"/>
<circle cx="28.6" cy="343.2" r="7.2" fill="url(#g1)"/>
<circle cx="175.4" cy="394.3" r="5.9" fill="url(#g0)"/>
<circle cx="148.1" cy="414.7" r="5.0" fill="url(#g1)"/>
<circle cx="23.9" cy="449.0" r="6.6" fill="url(#g0)"/>
<circle cx="269.8" cy="581.9" r="6.1" fill="url(#g0)"/>
<circle cx="208.1" cy="519.1" r="6.0" fill="url(#g0)"/>
<circle cx="148.3" cy="343.2" r="9.9" fill="url(#g0)"/>
<circle cx="77.9" cy="381.4" r="9.7" fill="url(#g0)"/>
<circle cx="196.1" cy="369.7" r="8.1" fill="url(#g1)"/>
<circle cx="140.1" cy="372.4" r="4.3" fill="url(#g2)"/>
<circle cx="46.1" cy="442.7" r="9.6" fill="url(#g0)"/>
<circle cx="295.1" cy="564.1" r="9.8" fill="url(#g1)"/>
<circle cx="294.9" cy="444.6" r="7.1" fill="url(#g0)"/>
<circle cx="23.5" cy="487.0" r="6.5" fill="url(#g1)"/>
<circle cx="50.5" cy="541.6" r="7.9" fill="url(#g1)"/>
<circle cx="279.0" cy="346.3" r="7.3" fill="url(#g0)"/>
<circle cx="214.9" cy="345.1" r="4.5" fill="url(#g2)"/>
<circle cx="254.1" cy="582.1" r="8.9" fill="url(#g1)"/>
<circle cx="135.2" cy="470.8" r="8.2" fill="url(#g1)"/>
<circle cx="294.3" cy="533.7" r="7.1" fill="url(#g2)"/>
<circle cx="99.7" cy="488.5" r="6.4" fill="url(#g0)"/>
<circle cx="106.3" cy="427.1" r="7.2" fill="url(#g0)"/>
<circle cx="285.4" cy="584.0" r="10.2" fill="url(#g1)"/>
<circle cx="123.0" cy="378.4" r="6.3" fill="url(#g0)"/>
<circle cx="71.8" cy="509.8" r="6.1" fill="url(#g0)"/>
<circle cx="188.6" cy="567.4" r="6.2" fill="url(#g0)"/>
<circle cx="62.7" cy="517.8" r="8.8" fill="url(#g0)"/>
<circle cx="301.5" cy="351.0" r="6.2" fill="url(#g1)"/>
<circle cx="87.8" cy="392.1" r="6.7" fill="url(#g1)"/>
<circle cx="52.6" cy="363.1" r="5.3" fill="url(#g1)"/>
<circle cx="299.8" cy="402.6" r="6.3" fill="url(#g0)"/>
<circle cx="181.5" cy="574.8" r="4.6" fill="url(#g0)"/>
<circle cx="62.0" cy="505.2" r="9.0" fill="url(#g2)"/>
<circle cx="286.3" cy="545.2" r="8.9" fill="url(#g2)"/>
<circle cx="122.9" cy="584.4" r="7.0" fill="url(#g2)"/>
<circle cx="79.1" cy="499.8" r="10.1" fill="url(#g2)"/>
<circle cx="171.2" cy="517.9" r="6.1" fill="url(#g2)"/>
<circle cx="205.3" cy="442.1" r="7.4" fill="url(#g0)"/>
<circle cx="32.0" cy="370.5" r="10.3" fill="url(#g2)"/>
<circle cx="217.5" cy="531.7" r="5.1" fill="url(#g1)"/>
<circle cx="180.2" cy="518.5" r="7.0" fill="url(#g1)"/>
<circle cx="69.1" cy="455.0" r="9.1" fill="url(#g1)"/>
<circle cx="186.0" cy="449.9" r="7.3" fill="url(#g2)"/>
<circle cx="68.3" cy="336.9" r="7.2" fill="url(#g1)"/>
<circle cx="52.9" cy="369.6" r="4.4" fill="url(#g0)"/>
<circle cx="25.2" cy="358.4" r="7.1" fill="url(#g1)"/>
<circle cx="240.6" cy="475.2" r="10.0" fill="url(#g1)"/>
<circle cx="152.2" cy="528.6" r="10.3" fill="url(#g1)"/>
<circle cx="50.7" cy="515.7" r="8.0" fill="url(#g2)"/>
<circle cx="237.7" cy="348.4" r="9.7" fill="url(#g2)"/>
<circle cx="151.6" cy="444.0" r="5.5" fill="url(#g1)"/>
<circle cx="139.5" cy="584.1" r="10.2" fill="url(#g0)"/>
<circle cx="272.9" cy="387.0" r="7.9" fill="url(#g1)"/>
<circle cx="58.2" cy="338.6" r="6.9" fill="url(#g2)"/>
<circle cx="275.8" cy="576.0" r="4.4" fill="url(#g1)"/>
<circle cx="163.1" cy="372.8" r="7.2" fill="url(#g1)"/>
<circle cx="64.1" cy="375.3" r="7.1" fill="url(#g1)"/>
<circle cx="156.0" cy="363.6" r="5.4" fill="url(#g0)"/>
<circle cx="129.7" cy="520.5" r="6.1" fill="url(#g1)"/>
<circle cx="302.4" cy="480.3" r="7.8" fill="url(#g0)"/>
<circle cx="71.5" cy="565.3" r="8.3" fill="url(#g0)"/>
<circle cx="46.5" cy="502.5" r="5.7" fill="url(#g1)"/>
<circle cx="237.7" cy="415.3" r="5.1" fill="url(#g1)"/>
<circle cx="48.2" cy="453.8" r="6.2" fill="url(#g1)"/>
<circle cx="94.7" cy="337.2" r="7.8" fill="url(#g1)"/>
<circle cx="125.7" cy="410.3" r="4.6" fill="url(#g0)"/>
<circle cx="154.4" cy="516.6" r="4.5" fill="url(#g2)"/>
<circle cx="168.6" cy="430.7" r="7.5" fill="url(#g0)"/>
<circle cx="126.8" cy="495.3" r="10.2" fill="url(#g1)"/>
<circle cx="130.7" cy="554.4" r="6.3" fill="url(#g1)"/>
<circle cx="49.5" cy="479.5" r="6.8" fill="url(#g0)"/>
<circle cx="257.8" cy="527.1" r="4.7" fill="url(#g1)"/>
<circle cx="155.3" cy="586.1" r="4.6" fill="url(#g0)"/>
<circle cx="92.1" cy="350.7" r="6.4" fill="url(#g2)"/>
<circle cx="244.3" cy="502.6" r="9.9" fill="url(#g1)"/>
<circle cx="283.5" cy="382.1" r="8.8" fill="url(#g2)"/>
<circle cx="96.4" cy="504.7" r="9.0" fill="url(#g2)"/>
<circle cx="220.5" cy="483.6" r="7.0" fill="url(#g2)"/>
<circle cx="264.6" cy="489.7" r="4.9" fill="url(#g2)"/>
<circle cx="282.6" cy="468.8" r="8.3" fill="url(#g1)"/>
<circle cx="207.0" cy="392.5" r="4.8" fill="url(#g1)"/>
<circle cx="85.2" cy="420.7" r="6.5" fill="url(#g2)"/>
<circle cx="253.4" cy="396.8" r="6.4" fill="url(#g1)"/>
<circle cx="218.5" cy="358.6" r="6.2" fill="url(#g2)"/>
<circle cx="123.4" cy="367.0" r="9.7" fill="url(#g1)"/>
<circle cx="255.5" cy="495.0" r="6.0" fill="url(#g0)"/>
<circle cx="199.1" cy="345.9" r="5.0" fill="url(#g1)"/>
<circle cx="65.6" cy="438.5" r="8.8" fill="url(#g1)"/>
<circle cx="174.5" cy="576.3" r="5.2" fill="url(#g1)"/>
<circle cx="265.5" cy="559.1" r="6.6" fill="url(#g1)"/>
<circle cx="66.6" cy="492.2" r="4.7" fill="url(#g1)"/>
<circle cx="131.9" cy="378.2" r="6.7" fill="url(#g0)"/>
<circle cx="262.7" cy="400.7" r="6.9" fill="url(#g0)"/>
<circle cx="181.6" cy="549.9" r="4.8" fill="url(#g0)"/>
<circle cx="38.1" cy="452.2" r="4.9" fill="url(#g1)"/>
<circle cx="195.4" cy="437.9" r="6.4" fill="url(#g0)"/>
<circle cx="166.6" cy="420.9" r="4.5" fill="url(#g1)"/>
<circle cx="205.1" cy="355.8" r="9.2" fill="url(#g0)"/>
<circle cx="120.6" cy="510.2" r="6.1" fill="url(#g1)"/>
<circle cx="210.5" cy="404.0" r="9.5" fill="url(#g1)"/>
<circle cx="234.1" cy="550.4" r="7.2" fill="url(#g0)"/>
<circle cx="197.4" cy="585.5" r="9.1" fill="url(#g1)"/>
<circle cx="123.5" cy="530.1" r="6.5" fill="url(#g0)"/>
<circle cx="104.7" cy="497.4" r="6.4" fill="url(#g2)"/>
<circle cx="284.5" cy="440.7" r="8.9" fill="url(#g0)"/>
<circle cx="216.0" cy="523.4" r="6.4" fill="url(#g1)"/>
<circle cx="233.4" cy="464.0" r="5.4" fill="url(#g2)"/>
<circle cx="100.1" cy="517.5" r="6.3" fill="url(#g2)"/>
<circle cx="168.9" cy="555.7" r="9.2" fill="url(#g1)"/>
<circle cx="215.5" cy="542.0" r="10.3" fill="url(#g1)"/>
<circle cx="154.5" cy="384.6" r="5.4" fill="url(#g0)"/>
<circle cx="154.8" cy="395.1" r="7.1" fill="url(#g1)"/>
<circle cx="261.7" cy="375.1" r="9.9" fill="url(#g2)"/>
<circle cx="163.6" cy="580.7" r="8.8" fill="url(#g2)"/>
<circle cx="249.5" cy="347.4" r="6.8" fill="url(#g1)"/>
<circle cx="273.5" cy="398.3" r="8.5" fill="url(#g1)"/>
<circle cx="190.0" cy="520.4" r="6.7" fill="url(#g1)"/>
<circle cx="61.8" cy="539.3" r="6.8" fill="url(#g0)"/>
<circle cx="75.6" cy="396.2" r="7.7" fill="url(#g2)"/>
<circle cx="257.7" cy="442.2" r="7.3" fill="url(#g0)"/>
<circle cx="288.3" cy="494.4" r="8.5" fill="url(#g0)"/>
<circle cx="202.3" cy="545.5" r="6.5" fill="url(#g1)"/>
<circle cx="83.5" cy="539.7" r="10.3" fill="url(#g2)"/>
<circle cx="270.3" cy="520.0" r="10.3" fill="url(#g0)"/>
<circle cx="65.3" cy="585.3" r="6.1" fill="url(#g1)"/>
<circle cx="199.7" cy="572.8" r="6.1" fill="url(#g0)"/>
<circle cx="129.9" cy="577.5" r="6.5" fill="url(#g2)"/>
<circle cx="146.1" cy="538.9" r="5.5" fill="url(#g1)"/>
<circle cx="294.0" cy="391.3" r="10.1" fill="url(#g1)"/>
<circle cx="23.9" cy="409.5" r="4.2" fill="url(#g2)"/>
<circle cx="135.9" cy="388.5" r="4.4" fill="url(#g0)"/>
<circle cx="20.9" cy="524.5" r="9.6" fill="url(#g0)"/>
<circle cx="235.2" cy="391.8" r="6.4" fill="url(#g2)"/>
<circle cx="220.9" cy="403.3" r="5.5" fill="url(#g1)"/>
<circle cx="253.7" cy="515.5" r="8.2" fill="url(#g1)"/>
<circle cx="103.4" cy="581.6" r="6.1" fill="url(#g2)"/>
<circle cx="120.5" cy="451.1" r="8.5" fill="url(#g1)"/>
<circle cx="57.1" cy="448.9" r="4.8" fill="url(#g2)"/>
<circle cx="116.2" cy="552.3" r="7.6" fill="url(#g1)"/>
<circle cx="32.2" cy="496.0" r="10.2" fill="url(#g1)"/>
<circle cx="292.6" cy="575.7" r="4.4" fill="url(#g1)"/>
<circle cx="137.4" cy="538.0" r="5.0" fill="url(#g1)"/>
<circle cx="160.9" cy="536.1" r="6.3" fill="url(#g0)"/>
<circle cx="83.7" cy="513.3" r="10.3" fill="url(#g1)"/>
<circle cx="145.0" cy="363.8" r="8.6" fill="url(#g0)"/>
<circle cx="209.3" cy="417.5" r="7.7" fill="url(#g1)"/>
<circle cx="299.3" cy="366.1" r="7.1" fill="url(#g1)"/>
<circle cx="130.5" cy="544.8" r="4.2" fill="url(#g1)"/>
<circle cx="154.2" cy="483.5" r="6.0" fill="url(#g1)"/>
<circle cx="83.4" cy="472.0" r="8.2" fill="url(#g2)"/>
<circle cx="168.7" cy="538.5" r="5.1" fill="url(#g2)"/>
<circle cx="205.0" cy="502.4" r="4.7" fill="url(#g0)"/>
<circle cx="299.9" cy="337.5" r="6.8" fill="url(#g1)"/>
<circle cx="243.8" cy="356.6" r="4.9" fill="url(#g0)"/>
<circle cx="163.6" cy="399.9" r="5.0" fill="url(#g2)"/>
<circle cx="53.7" cy="413.6" r="9.5" fill="url(#g0)"/>
<circle cx="272.4" cy="496.8" r="9.7" fill="url(#g1)"/>
<circle cx="183.6" cy="435.7" r="10.2" fill="url(#g0)"/>
<circle cx="103.0" cy="548.2" r="6.3" fill="url(#g1)"/>
<circle cx="171.5" cy="482.2" r="6.3" fill="url(#g2)"/>
<circle cx="30.6" cy="568.9" r="6.9" fill="url(#g1)"/>
<circle cx="124.3" cy="462.5" r="6.8" fill="url(#g0)"/>
<circle cx="131.4" cy="455.5" r="6.7" fill="url(#g2)"/>
<circle cx="222.1" cy="513.1" r="4.2" fill="url(#g0)"/>
<circle cx="20.6" cy="497.6" r="6.3" fill="url(#g1)"/>
<circle cx="280.6" cy="417.4" r="9.7" fill="url(#g2)"/>
<circle cx="301.4" cy="491.1" r="6.4" fill="url(#g1)"/>
<circle cx="221.1" cy="554.4" r="8.9" fill="url(#g0)"/>
<circle cx="22.9" cy="576.0" r="6.8" fill="url(#g2)"/>
<circle cx="86.6" cy="488.4" r="8.9" fill="url(#g1)"/>
<circle cx="183.4" cy="467.3" r="9.1" fill="url(#g0)"/>
<circle cx="63.2" cy="422.6" r="6.6" fill="url(#g0)"/>
<circle cx="27.4" cy="585.6" r="8.1" fill="url(#g1)"/>
<circle cx="25.5" cy="419.3" r="8.7" fill="url(#g1)"/>
<circle cx="271.1" cy="475.7" r="7.2" fill="url(#g1)"/>
<circle cx="149.2" cy="474.2" r="6.5" fill="url(#g1)"/>
<circle cx="115.0" cy="498.3" r="7.1" fill="url(#g2)"/>
<circle cx="85.0" cy="556.0" r="6.3" fill="url(#g1)"/>
<circle cx="178.7" cy="558.1" r="5.5" fill="url(#g1)"/>
<circle cx="270.2" cy="541.7" r="9.8" fill="url(#g1)"/>
<circle cx="112.6" cy="518.8" r="4.8" fill="url(#g0)"/>
<circle cx="112.9" cy="393.2" r="4.5" fill="url(#g1)"/>
<circle cx="36.3" cy="560.6" r="5.0" fill="url(#g2)"/>
<circle cx="199.6" cy="523.3" r="7.5" fill="url(#g2)"/>
<circle cx="213.0" cy="427.5" r="6.5" fill="url(#g1)"/>
<circle cx="31.6" cy="531.6" r="7.2" fill="url(#g0)"/>
<circle cx="266.0" cy="467.8" r="6.5" fill="url(#g1)"/>
<circle cx="44.5" cy="418.9" r="6.1" fill="url(#g0)"/>
<circle cx="142.7" cy="401.4" r="9.0" fill="url(#g1)"/>
<circle cx="29.0" cy="439.2" r="9.5" fill="url(#g2)"/>
<circle cx="165.2" cy="509.9" r="8.0" fill="url(#g1)"/>
<circle cx="301.6" cy="577.2" r="8.0" fill="url(#g0)"/>
<circle cx="85.1" cy="373.8" r="5.1" fill="url(#g0)"/>
<circle cx="214.6" cy="468.9" r="9.4" fill="url(#g2)"/>
<circle cx="168.9" cy="361.0" r="7.6" fill="url(#g1)"/>
<circle cx="84.5" cy="344.8" r="7.5" fill="url(#g1)"/>
<circle cx="78.4" cy="336.8" r="7.1" fill="url(#g0)"/>
<circle cx="144.0" cy="517.9" r="8.5" fill="url(#g1)"/>
<circle cx="170.2" cy="404.9" r="7.1" fill="url(#g1)"/>
<circle cx="33.7" cy="522.3" r="6.4" fill="url(#g2)"/>
<circle cx="216.3" cy="569.6" r="6.2" fill="url(#g0)"/>
<circle cx="240.0" cy="488.8" r="9.4" fill="url(#g0)"/>
<circle cx="143.1" cy="390.2" r="6.4" fill="url(#g2)"/>
<circle cx="205.0" cy="493.1" r="4.9" fill="url(#g0)"/>
<circle cx="178.5" cy="456.7" r="5.6" fill="url(#g2)"/>
<circle cx="241.6" cy="524.3" r="8.1" fill="url(#g0)"/>
<circle cx="21.6" cy="459.3" r="8.1" fill="url(#g2)"/>
<circle cx="122.3" cy="562.6" r="7.4" fill="url(#g2)"/>
<circle cx="258.1" cy="456.5" r="8.8" fill="url(#g2)"/>
<circle cx="48.9" cy="336.5" r="6.8" fill="url(#g0)"/>
<circle cx="279.3" cy="481.0" r="7.2" fill="url(#g2)"/>
<circle cx="291.2" cy="374.1" r="6.8" fill="url(#g0)"/>
<circle cx="124.6" cy="474.4" r="7.6" fill="url(#g2)"/>
<circle cx="262.9" cy="551.9" r="4.4" fill="url(#g0)"/>
<circle cx="184.6" cy="583.9" r="7.5" fill="url(#g2)"/>
<circle cx="134.7" cy="366.8" r="5.9" fill="url(#g0)"/>
<circle cx="252.2" cy="549.3" r="8.9" fill="url(#g1)"/>
<circle cx="167.7" cy="340.2" r="9.9" fill="url(#g1)"/>
<circle cx="94.5" cy="381.6" r="10.1" fill="url(#g2)"/>
<circle cx="113.1" cy="416.3" r="7.6" fill="url(#g2)"/>
<circle cx="158.2" cy="546.1" r="6.5" fill="url(#g0)"/>
<circle cx="206.6" cy="339.2" r="9.6" fill="url(#g0)"/>
<circle cx="224.0" cy="373.9" r="4.3" fill="url(#g2)"/>
<circle cx="173.2" cy="585.8" r="5.2" fill="url(#g2)"/>
<circle cx="43.2" cy="361.8" r="8.0" fill="url(#g1)"/>
<circle cx="33.6" cy="551.0" r="9.3" fill="url(#g0)"/>
<circle cx="152.0" cy="422.0" r="5.9" fill="url(#g1)"/>
<circle cx="159.1" cy="453.5" r="7.9" fill="url(#g2)"/>
<circle cx="192.4" cy="532.1" r="8.9" fill="url(#g1)"/>
<circle cx="175.3" cy="531.1" r="8.2" fill="url(#g1)"/>
<circle cx="63.3" cy="363.9" r="9.5" fill="url(#g0)"/>
<circle cx="57.9" cy="460.7" r="6.0" fill="url(#g2)"/>
<circle cx="152.9" cy="508.9" r="5.3" fill="url(#g0)"/>
<circle cx="44.6" cy="561.2" r="6.6" fill="url(#g1)"/>
<circle cx="54.9" cy="379.6" r="4.2" fill="url(#g2)"/>
<circle cx="59.5" cy="404.2" r="4.7" fill="url(#g1)"/>
<circle cx="69.0" cy="353.0" r="7.7" fill="url(#g2)"/>
<circle cx="110.6" cy="345.4" r="6.8" fill="url(#g0)"/>
<circle cx="94.9" cy="551.9" r="4.3" fill="url(#g2)"/>
<circle cx="143.1" cy="495.7" r="6.4" fill="url(#g2)"/>
<circle cx="209.8" cy="532.5" r="5.9" fill="url(#g1)"/>
<circle cx="246.7" cy="369.9" r="8.2" fill="url(#g1)"/>
<circle cx="303.1" cy="450.7" r="7.0" fill="url(#g2)"/>
<circle cx="297.8" cy="526.4" r="4.7" fill="url(#g1)"/>
<circle cx="72.5" cy="543.4" r="4.9" fill="url(#g1)"/>
<circle cx="116.5" cy="487.6" r="6.9" fill="url(#g0)"/>
<circle cx="180.2" cy="379.2" r="6.1" fill="url(#g0)"/>
<circle cx="261.5" cy="506.6" r="8.8" fill="url(#g1)"/>
<circle cx="76.7" cy="581.5" r="10.1" fill="url(#g0)"/>
<circle cx="183.7" cy="526.0" r="4.9" fill="url(#g2)"/>
<circle cx="97.7" cy="472.2" r="10.0" fill="url(#g1)"/>
<circle cx="214.8" cy="369.6" r="6.2" fill="url(#g1)"/>
<circle cx="250.4" cy="573.2" r="4.2" fill="url(#g0)"/>
<circle cx="97.8" cy="438.8" r="8.0" fill="url(#g0)"/>
<circle cx="56.2" cy="572.7" r="10.2" fill="url(#g1)"/>
<circle cx="254.5" cy="563.3" r="9.6" fill="url(#g0)"/>
<circle cx="20.8" cy="432.0" r="4.3" fill="url(#g1)"/>
<circle cx="156.4" cy="498.6" r="7.3" fill="url(#g1)"/>
<circle cx="115.0" cy="466.2" r="6.0" fill="url(#g1)"/>
<circle cx="106.7" cy="463.3" r="6.0" fill="url(#g0)"/>
<circle cx="278.1" cy="553.4" r="8.1" fill="url(#g0)"/>
<circle cx="241.6" cy="552.8" r="4.4" fill="url(#g0)"/>
<circle cx="112.0" cy="374.0" r="8.8" fill="url(#g0)"/>
<circle cx="81.1" cy="357.8" r="7.8" fill="url(#g0)"/>
<circle cx="90.7" cy="562.8" r="6.2" fill="url(#g1)"/>
<circle cx="177.8" cy="369.6" r="7.8" fill="url(#g1)"/>
<circle cx="41.3" cy="401.0" r="6.6" fill="url(#g1)"/>
<circle cx="116.3" cy="385.3" r="7.4" fill="url(#g2)"/>
<circle cx="179.5" cy="480.3" r="4.7" fill="url(#g1)"/>
<circle cx="192.4" cy="481.3" r="9.7" fill="url(#g0)"/>
<circle cx="229.2" cy="436.0" r="10.0" fill="url(#g1)"/>
<circle cx="256.8" cy="476.3" r="8.7" fill="url(#g2)"/>
<circle cx="281.7" cy="369.7" r="6.7" fill="url(#g1)"/>
<circle cx="247.0" cy="386.4" r="10.0" fill="url(#g1)"/>
<circle cx="176.2" cy="567.4" r="6.4" fill="url(#g0)"/>
<circle cx="273.9" cy="531.4" r="4.4" fill="url(#g2)"/>
<circle cx="231.2" cy="424.4" r="6.2" fill="url(#g1)"/>
<circle cx="219.3" cy="455.3" r="7.1" fill="url(#g1)"/>
<circle cx="51.6" cy="387.6" r="4.6" fill="url(#g2)"/>
<circle cx="227.5" cy="489.4" r="6.2" fill="url(#g2)"/>
<circle cx="258.1" cy="430.2" r="7.8" fill="url(#g2)"/>
<circle cx="39.9" cy="487.6" r="6.3" fill="url(#g2)"/>
<circle cx="111.9" cy="364.5" r="4.3" fill="url(#g0)"/>
<circle cx="174.3" cy="545.4" r="6.2" fill="url(#g2)"/>
<circle cx="287.6" cy="455.1" r="8.9" fill="url(#g0)"/>
<circle cx="274.3" cy="359.3" r="8.3" fill="url(#g2)"/>
<circle cx="187.4" cy="375.2" r="4.2" fill="url(#g1)"/>
<circle cx="290.5" cy="404.5" r="4.2" fill="url(#g1)"/>
<circle cx="40.8" cy="577.7" r="7.5" fill="url(#g1)"/>
<circle cx="156.4" cy="377.5" r="4.5" fill="url(#g1)"/>
<circle cx="216.3" cy="378.8" r="4.9" fill="url(#g1)"/>
<circle cx="285.4" cy="506.0" r="5.3" fill="url(#g2)"/>
<circle cx="300.6" cy="517.2" r="6.4" fill="url(#g2)"/>
<circle cx="269.0" cy="433.9" r="7.4" fill="url(#g1)"/>
<circle cx="20.5" cy="374.1" r="6.4" fill="url(#g1)"/>
<circle cx="213.5" cy="510.1" r="7.0" fill="url(#g0)"/>
<circle cx="104.0" cy="385.9" r="4.5" fill="url(#g0)"/>
<circle cx="157.7" cy="564.9" r="8.4" fill="url(#g0)"/>
<circle cx="197.6" cy="468.7" r="7.9" fill="url(#g2)"/>
<circle cx="96.8" cy="524.6" r="4.5" fill="url(#g0)"/>
<circle cx="237.7" cy="537.3" r="5.7" fill="url(#g1)"/>
<circle cx="119.9" cy="348.2" r="6.5" fill="url(#g0)"/>
<circle cx="46.2" cy="377.3" r="9.0" fill="url(#g1)"/>
<circle cx="240.5" cy="461.3" r="4.6" fill="url(#g1)"/>
<circle cx="231.5" cy="509.1" r="10.0" fill="url(#g1)"/>
<circle cx="104.0" cy="569.1" r="9.9" fill="url(#g0)"/>
<circle cx="130.5" cy="480.3" r="4.4" fill="url(#g1)"/>
<circle cx="187.2" cy="369.1" r="4.3" fill="url(#g0)"/>
<circle cx="150.6" cy="578.5" r="7.0" fill="url(#g2)"/>
<circle cx="245.2" cy="541.2" r="6.6" fill="url(#g0)"/>
<circle cx="278.7" cy="336.8" r="5.0" fill="url(#g1)"/>
<circle cx="267.1" cy="425.2" r="4.9" fill="url(#g0)"/>
<circle cx="111.1" cy="436.7" r="8.4" fill="url(#g1)"/>
<circle cx="156.6" cy="436.6" r="6.8" fill="url(#g0)"/>
<circle cx="182.4" cy="536.4" r="4.6" fill="url(#g1)"/>
<circle cx="46.5" cy="467.5" r="9.6" fill="url(#g2)"/>
<circle cx="75.5" cy="445.9" r="5.5" fill="url(#g1)"/>
<circle cx="50.4" cy="424.8" r="4.4" fill="url(#g1)"/>
<circle cx="106.7" cy="526.7" r="7.2" fill="url(#g1)"/>
<circle cx="28.6" cy="429.5" r="4.6" fill="url(#g1)"/>
<circle cx="220.2" cy="583.6" r="9.0" fill="url(#g1)"/>
<circle cx="198.1" cy="421.6" r="4.3" fill="url(#g2)"/>
<circle cx="56.8" cy="583.8" r="5.1" fill="url(#g2)"/>
<circle cx="218.9" cy="338.1" r="5.5" fill="url(#g1)"/>
<circle cx="168.9" cy="459.9" r="6.4" fill="url(#g0)"/>
<circle cx="262.4" cy="351.2" r="6.7" fill="url(#g0)"/>
<circle cx="257.6" cy="419.3" r="4.9" fill="url(#g2)"/>
<circle cx="282.5" cy="403.4" r="6.5" fill="url(#g1)"/>
<circle cx="192.6" cy="354.6" r="8.2" fill="url(#g0)"/>
<circle cx="97.6" cy="452.8" r="8.5" fill="url(#g2)"/>
<circle cx="71.9" cy="519.8" r="5.2" fill="url(#g1)"/>
<circle cx="75.5" cy="555.4" r="6.1" fill="url(#g0)"/>
<circle cx="244.0" cy="587.0" r="4.2" fill="url(#g0)"/>
<circle cx="78.0" cy="461.4" r="5.2" fill="url(#g0)"/>
<circle cx="229.2" cy="337.6" r="7.0" fill="url(#g2)"/>
<circle cx="223.9" cy="348.6" r="9.2" fill="url(#g1)"/>
<circle cx="246.0" cy="434.6" r="7.7" fill="url(#g0)"/>
<circle cx="61.3" cy="483.6" r="8.5" fill="url(#g0)"/>
<circle cx="227.2" cy="413.8" r="8.5" fill="url(#g2)"/>
<circle cx="148.2" cy="437.9" r="4.7" fill="url(#g0)"/>
<circle cx="255.3" cy="535.7" r="7.8" fill="url(#g1)"/>
<circle cx="258.4" cy="387.1" r="6.7" fill="url(#g1)"/>
<circle cx="292.5" cy="355.7" r="8.4" fill="url(#g2)"/>
<circle cx="75.2" cy="488.0" r="7.5" fill="url(#g2)"/>
<circle cx="268.3" cy="572.5" r="7.1" fill="url(#g1)"/>
<circle cx="50.5" cy="399.2" r="6.9" fill="url(#g2)"/>
<circle cx="239.9" cy="423.1" r="6.6" fill="url(#g1)"/>
<circle cx="227.9" cy="383.2" r="6.2" fill="url(#g2)"/>
<circle cx="299.9" cy="503.7" r="7.8" fill="url(#g0)"/>
<circle cx="165.9" cy="441.8" r="7.5" fill="url(#g1)"/>
<circle cx="40.9" cy="409.2" r="4.4" fill="url(#g1)"/>
<circle cx="283.8" cy="533.5" r="6.1" fill="url(#g2)"/>
<circle cx="142.0" cy="506.5" r="6.5" fill="url(#g2)"/>
<circle cx="89.2" cy="367.9" r="4.9" fill="url(#g0)"/>
<circle cx="76.7" cy="412.5" r="6.0" fill="url(#g0)"/>
<circle cx="199.0" cy="406.3" r="6.5" fill="url(#g1)"/>
<circle cx="94.2" cy="428.2" r="6.7" fill="url(#g2)"/>
<circle cx="129.3" cy="569.4" r="4.7" fill="url(#g0)"/>
<circle cx="210.4" cy="584.2" r="5.4" fill="url(#g2)"/>
<circle cx="238.7" cy="444.1" r="5.4" fill="url(#g1)"/>
<circle cx="170.6" cy="450.9" r="6.2" fill="url(#g1)"/>
<circle cx="216.3" cy="495.2" r="9.0" fill="url(#g2)"/>
<circle cx="48.1" cy="526.1" r="6.9" fill="url(#g1)"/>
<circle cx="123.6" cy="547.9" r="5.1" fill="url(#g0)"/>
<circle cx="71.2" cy="531.8" r="6.3" fill="url(#g1)"/>
<circle cx="178.3" cy="508.0" r="7.9" fill="url(#g2)"/>
<circle cx="108.7" cy="478.3" r="7.5" fill="url(#g1)"/>
<circle cx="22.0" cy="536.4" r="7.8" fill="url(#g2)"/>
<circle cx="64.3" cy="411.2" r="6.3" fill="url(#g2)"/>
<circle cx="223.6" cy="519.6" r="4.5" fill="url(#g1)"/>
<circle cx="44.7" cy="390.5" r="6.4" fill="url(#g1)"/>
<circle cx="21.1" cy="392.4" r="8.3" fill="url(#g2)"/>
<circle cx="251.1" cy="528.2" r="4.3" fill="url(#g0)"/>
<circle cx="21.8" cy="402.5" r="6.4" fill="url(#g1)"/>
<circle cx="92.1" cy="359.3" r="6.0" fill="url(#g1)"/>
<circle cx="56.4" cy="554.6" r="6.0" fill="url(#g2)"/>
<circle cx="242.1" cy="514.5" r="6.3" fill="url(#g0)"/>
<circle cx="278.6" cy="527.4" r="4.4" fill="url(#g0)"/>
<circle cx="207.9" cy="377.3" r="6.7" fill="url(#g0)"/>
<circle cx="229.5" cy="480.1" r="4.8" fill="url(#g1)"/>
<circle cx="181.6" cy="494.5" r="9.1" fill="url(#g2)"/>
<circle cx="194.9" cy="497.4" r="6.3" fill="url(#g0)"/>
<circle cx="240.2" cy="401.2" r="8.6" fill="url(#g2)"/>
<circle cx="269.3" cy="340.0" r="7.1" fill="url(#g0)"/>
<circle cx="244.2" cy="410.5" r="4.6" fill="url(#g1)"/>
<circle cx="90.7" cy="405.7" r="9.4" fill="url(#g1)"/>
<circle cx="167.4" cy="526.4" r="5.0" fill="url(#g0)"/>
<circle cx="139.2" cy="482.3" r="7.8" fill="url(#g2)"/>
<circle cx="129.7" cy="399.2" r="7.9" fill="url(#g1)"/>
<circle cx="197.6" cy="395.6" r="6.1" fill="url(#g0)"/>
<circle cx="46.5" cy="584.9" r="4.5" fill="url(#g0)"/>
<circle cx="226.2" cy="469.4" r="6.1" fill="url(#g2)"/>
<circle cx="217.1" cy="437.7" r="6.3" fill="url(#g2)"/>
<circle cx="202.4" cy="428.0" r="7.1" fill="url(#g0)"/>
<circle cx="286.7" cy="517.2" r="8.8" fill="url(#g2)"/>
<circle cx="21.1" cy="336.3" r="4.9" fill="url(#g2)"/>
<circle cx="104.4" cy="338.9" r="5.4" fill="url(#g2)"/>
<circle cx="99.2" cy="415.5" r="9.6" fill="url(#g0)"/>
<circle cx="36.8" cy="385.7" r="4.7" fill="url(#g2)"/>
<circle cx="276.6" cy="508.2" r="6.7" fill="url(#g0)"/>
<circle cx="160.8" cy="469.6" r="9.4" fill="url(#g1)"/>
<circle cx="227.9" cy="539.9" r="6.6" fill="url(#g1)"/>
<circle cx="137.2" cy="421.3" r="7.0" fill="url(#g1)"/>
<circle cx="20.9" cy="474.5" r="4.3" fill="url(#g2)"/>
<circle cx="168.5" cy="501.4" r="5.0" fill="url(#g1)"/>
<circle cx="273.0" cy="460.6" r="7.2" fill="url(#g2)"/>
<circle cx="233.8" cy="585.9" r="9.6" fill="url(#g0)"/>
<circle cx="48.0" cy="550.8" r="4.5" fill="url(#g2)"/>
<circle cx="112.8" cy="560.7" r="5.4" fill="url(#g2)"/>
<circle cx="275.3" cy="566.6" r="4.2" fill="url(#g2)"/>
<circle cx="301.8" cy="377.5" r="8.9" fill="url(#g0)"/>
<circle cx="127.4" cy="387.7" r="5.6" fill="url(#g1)"/>
<circle cx="202.2" cy="510.9" r="8.2" fill="url(#g1)"/>
<circle cx="64.6" cy="549.2" r="8.1" fill="url(#g0)"/>
<circle cx="51.2" cy="492.6" r="8.6" fill="url(#g0)"/>
<circle cx="136.6" cy="411.3" r="6.6" fill="url(#g1)"/>
<circle cx="244.6" cy="337.3" r="8.1" fill="url(#g0)"/>
<circle cx="138.0" cy="358.1" r="4.4" fill="url(#g2)"/>
<circle cx="32.7" cy="409.7" r="6.5" fill="url(#g2)"/>
<circle cx="30.8" cy="391.5" r="5.2" fill="url(#g2)"/>
<circle cx="68.3" cy="403.1" r="6.4" fill="url(#g1)"/>
<circle cx="117.3" cy="402.6" r="9.6" fill="url(#g0)"/>
<circle cx="66.5" cy="576.8" r="5.6" fill="url(#g0)"/>
<circle cx="297.0" cy="465.2" r="7.1" fill="url(#g1)"/>
<circle cx="248.7" cy="463.5" r="7.1" fill="url(#g1)"/>
<circle cx="266.8" cy="446.5" r="6.3" fill="url(#g1)"/>
<circle cx="82.1" cy="454.5" r="6.0" fill="url(#g1)"/>
<circle cx="292.6" cy="473.0" r="5.3" fill="url(#g2)"/>
<circle cx="103.3" cy="396.5" r="8.5" fill="url(#g1)"/>
<circle cx="118.5" cy="572.1" r="7.5" fill="url(#g1)"/>
<circle cx="186.7" cy="362.7" r="4.2" fill="url(#g0)"/>
<circle cx="292.1" cy="483.4" r="5.1" fill="url(#g2)"/>
<circle cx="114.0" cy="356.6" r="7.0" fill="url(#g1)"/>
<circle cx="168.3" cy="565.4" r="4.2" fill="url(#g0)"/>
<circle cx="86.5" cy="428.3" r="4.3" fill="url(#g2)"/>
<circle cx="251.5" cy="417.8" r="4.3" fill="url(#g2)"/>
<circle cx="86.8" cy="525.9" r="7.0" fill="url(#g2)"/>
<circle cx="32.0" cy="477.2" r="9.3" fill="url(#g0)"/>
<circle cx="42.1" cy="434.0" r="4.2" fill="url(#g2)"/>
<circle cx="100.0" cy="402.0" r="7.0" fill="url(#g4)"/>
<circle cx="66.0" cy="381.0" r="7.0" fill="url(#g4)"/>
<circle cx="36.0" cy="430.0" r="7.0" fill="url(#g4)"/>
<circle cx="148.0" cy="352.0" r="9.0" fill="url(#g4)"/>
<circle cx="109.7" cy="416.0" r="6.0" fill="url(#g4)"/>
<circle cx="131.0" cy="384.0" r="8.0" fill="url(#g4)"/>
<circle cx="152.4" cy="437.5" r="6.0" fill="url(#g4)"/>
<circle cx="180.3" cy="348.9" r="9.0" fill="url(#g4)"/>
<circle cx="245.4" cy="371.3" r="7.0" fill="url(#g4)"/>
<circle cx="232.0" cy="368.0" r="6.0" fill="url(#g4)"/>
<circle cx="256.0" cy="391.6" r="8.0" fill="url(#g4)"/>
<circle cx="271.0" cy="397.0" r="8.0" fill="url(#g4)"/>
<circle cx="210.2" cy="401.2" r="9.0" fill="url(#g4)"/>
<circle cx="170.7" cy="387.3" r="8.0" fill="url(#g4)"/>
<circle cx="245.0" cy="463.0" r="7.0" fill="url(#g4)"/>
<circle cx="131.0" cy="498.4" r="8.0" fill="url(#g4)"/>
<circle cx="88.3" cy="507.0" r="9.0" fill="url(#g4)"/>
<circle cx="80.0" cy="502.0" r="7.0" fill="url(#g4)"/>
<circle cx="114.0" cy="522.0" r="9.0" fill="url(#g4)"/>
<circle cx="105.4" cy="541.0" r="8.0" fill="url(#g4)"/>
<circle cx="56.3" cy="490.0" r="8.0" fill="url(#g4)"/>
<circle cx="70.0" cy="470.0" r="7.0" fill="url(#g4)"/>
<circle cx="60.0" cy="520.0" r="7.0" fill="url(#g4)"/>
<circle cx="125.0" cy="560.0" r="7.0" fill="url(#g4)"/>
<circle cx="232.6" cy="506.0" r="7.0" fill="url(#g4)"/>
<circle cx="218.7" cy="481.4" r="9.0" fill="url(#g4)"/>
<circle cx="185.6" cy="479.2" r="9.0" fill="url(#g4)"/>
<circle cx="209.0" cy="534.7" r="9.0" fill="url(#g4)"/>
<circle cx="275.0" cy="490.0" r="7.0" fill="url(#g4)"/>
<circle cx="283.0" cy="460.0" r="7.0" fill="url(#g4)"/>
<circle cx="225.0" cy="445.0" r="7.0" fill="url(#g4)"/>
<circle cx="105.4" cy="394.8" r="11.0" fill="url(#g3)"/>
<circle cx="94.7" cy="390.5" r="8.0" fill="url(#g3)"/>
<circle cx="58.4" cy="390.5" r="9.0" fill="url(#g3)"/>
<circle cx="52.0" cy="403.3" r="9.0" fill="url(#g3)"/>
<circle cx="43.5" cy="418.3" r="9.0" fill="url(#g3)"/>
<circle cx="39.2" cy="452.4" r="9.0" fill="url(#g3)"/>
<circle cx="45.6" cy="460.0" r="8.0" fill="url(#g3)"/>
<circle cx="192.0" cy="373.4" r="11.0" fill="url(#g3)"/>
<circle cx="204.8" cy="362.8" r="10.0" fill="url(#g3)"/>
<circle cx="179.2" cy="375.6" r="8.0" fill="url(#g3)"/>
<circle cx="198.4" cy="383.0" r="8.0" fill="url(#g3)"/>
<circle cx="186.0" cy="366.0" r="8.0" fill="url(#g3)"/>
<circle cx="258.2" cy="411.9" r="9.0" fill="url(#g3)"/>
<circle cx="169.6" cy="429.0" r="6.5" fill="url(#g3)"/>
<circle cx="43.5" cy="468.5" r="10.0" fill="url(#g3)"/>
<circle cx="120.4" cy="487.8" r="11.0" fill="url(#g3)"/>
<circle cx="105.4" cy="477.0" r="9.0" fill="url(#g3)"/>
<circle cx="88.3" cy="483.5" r="8.0" fill="url(#g3)"/>
<circle cx="148.0" cy="496.3" r="9.0" fill="url(#g3)"/>
<circle cx="156.7" cy="507.0" r="7.0" fill="url(#g3)"/>
<circle cx="84.0" cy="547.5" r="8.0" fill="url(#g3)"/>
<circle cx="161.0" cy="520.0" r="7.0" fill="url(#g3)"/>
<circle cx="158.8" cy="571.0" r="8.0" fill="url(#g3)"/>
<circle cx="244.3" cy="471.7" r="10.0" fill="url(#g3)"/>
<circle cx="250.8" cy="500.6" r="9.0" fill="url(#g3)"/>
<circle cx="256.0" cy="530.5" r="8.0" fill="url(#g3)"/>
<circle cx="251.8" cy="545.4" r="8.0" fill="url(#g3)"/>
<circle cx="248.0" cy="556.0" r="6.0" fill="url(#g3)"/>
<circle cx="181.4" cy="517.7" r="10.0" fill="url(#g3)"/>
<circle cx="172.8" cy="511.2" r="8.0" fill="url(#g3)"/>
<circle cx="164.3" cy="519.8" r="7.0" fill="url(#g3)"/>
<circle cx="211.2" cy="567.8" r="8.0" fill="url(#g3)"/>
<circle cx="168.5" cy="560.4" r="8.0" fill="url(#g3)"/>
<circle cx="179.0" cy="571.0" r="7.0" fill="url(#g3)"/>
</g></g></g>
<circle cx="171.2" cy="431.75" r="18.4" fill="none" stroke="#f6e65e" stroke-width="3.9" stroke-dasharray="3.9 3.8074" stroke-dashoffset="0.09"/>
<ellipse cx="494.5" cy="466.75" rx="180" ry="139.25" fill="#fff" stroke="#fbf7c4" stroke-width="5.2"/>
<ellipse cx="494.5" cy="466.75" rx="180" ry="139.25" fill="none" stroke="#f5ec7e" stroke-width="3.4"/>
<path d="M191.8 433.3L330.8 408Q323.4 419 320 432.4Z" fill="#f6ed80"/>
<circle cx="479.9" cy="500.2" r="77" fill="url(#gp)"/>
<clipPath id="pc"><circle cx="479.9" cy="500.2" r="77"/></clipPath>
<g clip-path="url(#pc)">
<path d="M443.5 560C443.5 520 453 500.2 479 500.2C506 500.2 517.5 521 517.5 560C506 570 455 570 443.5 560Z" fill="#594ea3"/>
<path d="M457 550.5C456.5 529 464 511.4 478.5 511.4C494 511.4 504.6 529 504.2 550.5C497 560 464 560 457 550.5Z" fill="url(#gy)"/>
</g>
<clipPath id="ac1"><path d="M435.3 394C441 400 446 406 445.8 412C445 421 441 428 435.3 432.6C428 440 420 446 412.6 450C407 454 403 457.5 399.4 459.7L402 465.8L373.1 467.1L388.9 442.2L391.5 447.5C399 446 405 444 410.8 441.3C416 438 419.5 436 421.3 432.6C424 429 425 425 424 422C423.5 418 422.5 415.5 421.3 413.3C419 410 416 408.5 413.4 407.2L430 406.3Z"/></clipPath>
<path d="M435.3 394C441 400 446 406 445.8 412C445 421 441 428 435.3 432.6C428 440 420 446 412.6 450C407 454 403 457.5 399.4 459.7L402 465.8L373.1 467.1L388.9 442.2L391.5 447.5C399 446 405 444 410.8 441.3C416 438 419.5 436 421.3 432.6C424 429 425 425 424 422C423.5 418 422.5 415.5 421.3 413.3C419 410 416 408.5 413.4 407.2L430 406.3Z" fill="url(#ba1)"/>
<g clip-path="url(#ac1)"><path d="M411 404C418 408 423.5 415 424 422C425 429 420 436 410.8 441.3C404 444.5 398 446 390 447.5" fill="none" stroke="url(#bs1)" stroke-width="7.5" filter="url(#ab)"/><path d="M388.9 442.2L391.5 447.5L399 458L402 465.8L373.1 467.1Z" fill="url(#ba1)" opacity="0.75"/></g>
<clipPath id="ac2"><path d="M513.7 383.1L516.3 397.2L532.9 397.2C528 400 525.5 403 524.2 406.8C522.5 410 522.5 414 523.3 417.3C525 422 528 426 532 429.6C538 433.5 544 436 551.3 437.5L557.5 432.2L573.7 456.7L545.2 455.8L547.8 449.7C539 448 532 445 525 440C516 434 510 427 505.8 419C502.5 413 501.4 407 501.4 401.5C501.4 396 505 389 513.7 383.1Z"/></clipPath>
<path d="M513.7 383.1L516.3 397.2L532.9 397.2C528 400 525.5 403 524.2 406.8C522.5 410 522.5 414 523.3 417.3C525 422 528 426 532 429.6C538 433.5 544 436 551.3 437.5L557.5 432.2L573.7 456.7L545.2 455.8L547.8 449.7C539 448 532 445 525 440C516 434 510 427 505.8 419C502.5 413 501.4 407 501.4 401.5C501.4 396 505 389 513.7 383.1Z" fill="url(#ba2)"/>
<g clip-path="url(#ac2)"><path d="M535 394.5C528 399 523 407 523 415C523.5 424 530 431 540 435C545 436.8 549 437.5 553 437.8" fill="none" stroke="url(#bs2)" stroke-width="7.5" filter="url(#ab)"/><path d="M557.5 432.2L573.7 456.7L545.2 455.8L547.8 449.7L551.3 437.5Z" fill="url(#ba2)" opacity="0.75"/></g>
<clipPath id="ac3"><path d="M611.7 492C619 499 623 507 624.3 515C625 521 624.5 526 623.2 531C619 536 614 538 608.2 539.1L611.7 546L594.4 540.3L597.9 524.2L601.3 530C607 529.5 612 528 615 525.3C616.5 522 616.5 518.5 615 515C612.5 508 608 502.5 602.5 498.9L610 499Z"/></clipPath>
<path d="M611.7 492C619 499 623 507 624.3 515C625 521 624.5 526 623.2 531C619 536 614 538 608.2 539.1L611.7 546L594.4 540.3L597.9 524.2L601.3 530C607 529.5 612 528 615 525.3C616.5 522 616.5 518.5 615 515C612.5 508 608 502.5 602.5 498.9L610 499Z" fill="url(#ba3)"/>
<g clip-path="url(#ac3)"><path d="M601 496.5C609 501 614.5 509 616 517C616.5 522 615 526 611 528C607 529.6 603 530 600 530" fill="none" stroke="url(#bs3)" stroke-width="7.5" filter="url(#ab)"/><path d="M597.9 524.2L594.4 540.3L611.7 546L608.2 539.1L601.3 530Z" fill="url(#ba3)" opacity="0.75"/></g>
<circle cx="410.7" cy="382.8" r="22.4" fill="url(#go)"/>
<circle cx="537.8" cy="371.9" r="22.6" fill="url(#go)"/>
<circle cx="356.7" cy="490" r="22.6" fill="url(#gg)"/>
<circle cx="598.2" cy="466.5" r="22.6" fill="url(#gg)"/>
<g font-family="'Liberation Serif', serif">
<text x="390.9" y="385.9" font-size="12.5" textLength="39.3" lengthAdjust="spacingAndGlyphs" fill="#111">Cr(VI)</text>
<text x="519.7" y="374.4" font-size="12.5" textLength="39.8" lengthAdjust="spacingAndGlyphs" fill="#111">Cr(VI)</text>
<text x="334.2" y="491.6" font-size="12.5" textLength="39.8" lengthAdjust="spacingAndGlyphs" fill="#111">Cr(III)</text>
<text x="578.1" y="470.8" font-size="12.5" textLength="39.3" lengthAdjust="spacingAndGlyphs" fill="#111">Cr(III)</text>
<text x="460.8" y="543.5" font-size="12.2" textLength="37" lengthAdjust="spacingAndGlyphs" fill="#111">Fe core</text>
<text x="459.4" y="568.9" font-size="13.2" textLength="43.6" lengthAdjust="spacingAndGlyphs" fill="#18113f" stroke="#18113f" stroke-width="0.2">Sn shell</text>
<text x="453.0" y="450.0" font-size="20.5" textLength="10.2" lengthAdjust="spacingAndGlyphs" fill="#111" stroke="#111" stroke-width="0.35">e</text>
<path d="M465.7 436.7h3.0" stroke="#111" stroke-width="1.1"/>
<text x="493.2" y="451.6" font-size="20.5" textLength="10.4" lengthAdjust="spacingAndGlyphs" fill="#111" stroke="#111" stroke-width="0.35">e</text>
<path d="M505.8 439.2h3.0" stroke="#111" stroke-width="1.1"/>
<text x="461.6" y="514.9" font-size="15.5" textLength="7.8" lengthAdjust="spacingAndGlyphs" fill="#111" stroke="#111" stroke-width="0.35">e</text>
<path d="M471.4 504.1h3.0" stroke="#111" stroke-width="1.1"/>
<text x="491.9" y="515.5" font-size="15.5" textLength="7.8" lengthAdjust="spacingAndGlyphs" fill="#111" stroke="#111" stroke-width="0.35">e</text>
<path d="M500.6 504.9h3.0" stroke="#111" stroke-width="1.1"/>
<text x="627.6" y="527.6" font-size="15" fill="#111">OH</text>
<path d="M650.0 518.3h2.6" stroke="#111" stroke-width="1.1"/>
<text x="546.8" y="564.4" font-size="16" fill="#111">Cr(OH)</text><text x="598.3" y="568.8" font-size="7.5" fill="#1a1560">3</text>
<text x="35.5" y="356.6" font-size="15.5" fill="#000">(c)</text>
</g>
<g fill="none" stroke="#111" stroke-width="2.5" stroke-linecap="butt">
<path d="M453.8 463.6C453 453.5 449.5 447 443 442.8"/>
<path d="M506.4 461.8C508 452.5 512 446 518.5 441.8"/>
<path d="M473.8 520.2C466 520.6 461 519.6 456.5 517.8" stroke-width="2.2"/>
<path d="M484.5 520.4C492 520.6 497.5 519.6 502.5 517.6" stroke-width="2.2"/>
</g>
<g fill="#111">
<path d="M432.7 440.4L446.8 440.2L443.6 444L441.2 447.8Z"/>
<path d="M527 438.6L513 439.8L516.8 443L519.8 446Z"/>
<path d="M448 511.4L461 512.6L458.6 517.8L457.3 522.6Z"/>
<path d="M509.7 512.2L498.6 513.2L500.6 517.6L502.2 522.6Z"/>
</g>
<path d="M607 552V568.5M603.6 565.2L607 569.5L610.4 565.2Z" fill="#2a1a8a" stroke="#2a1a8a" stroke-width="0.9"/>
</svg></body></html>
